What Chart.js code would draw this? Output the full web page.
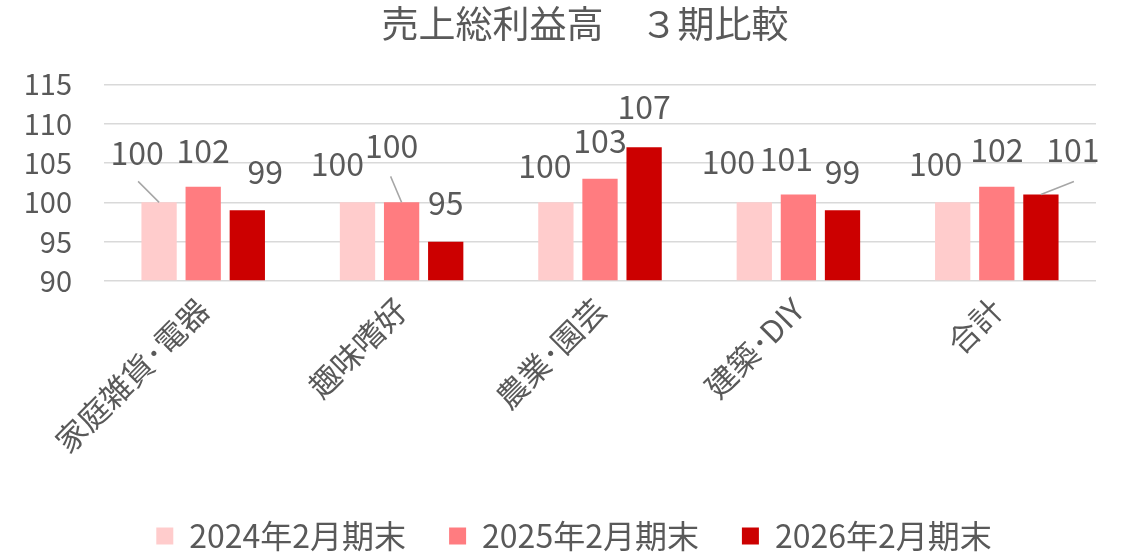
<!DOCTYPE html>
<html>
<head>
<meta charset="utf-8">
<script src="https://cdn.jsdelivr.net/npm/chart.js@4"></script>
<style>
  html, body { margin: 0; padding: 0; background: #fff; }
  #wrap { width: 1122px; height: 555px; }
</style>
</head>
<body>
<div id="wrap"><canvas id="chart-bars"></canvas></div>
<script>
const categories = ['家庭雑貨･電器', '趣味嗜好', '農業･園芸', '建築･DIY', '合計'];
const seriesNames = ['2024年2月期末', '2025年2月期末', '2026年2月期末'];
const values2024 = [100, 100, 100, 100, 100];
const values2025 = [102, 100, 103, 101, 102];
const values2026 = [99, 95, 107, 99, 101];
const yTicks = [90, 95, 100, 105, 110, 115];

const colors = ['#FFCCCC', '#FF7C80', '#CC0000'];
const FONT = '"Noto Sans CJK JP", "Noto Sans", sans-serif';
const TEXT = '#595959';

// where Excel moved each data label, relative to the top of its bar
const labelShift = [
  [[-22, -50], [-20, -39], [-11, -37], [-26, -41], [-17, -39]],
  [[0, -36], [-10, -57], [0, -38], [-12, -36], [0, -37]],
  [[18, -38], [0, -39], [0, -40], [0, -38], [32, -45]]
];
// leader lines: series, category, start point relative to the bar top
const leaders = [
  [0, 0, -21, -21],
  [1, 1, -11, -26],
  [2, 4, 33, -13]
];

const labelPlugin = {
  id: 'barLabels',
  afterLayout(chart) {
    // Excel centres the title and legend a little right of the canvas middle
    if (chart.titleBlock) chart.titleBlock.left = 74;
    if (chart.legend) chart.legend.left = 52;
  },
  afterDatasetsDraw(chart) {
    const c = chart.ctx;
    c.save();
    c.strokeStyle = '#A6A6A6';
    c.lineWidth = 1.5;
    for (const [s, i, dx, dy] of leaders) {
      const bar = chart.getDatasetMeta(s).data[i];
      c.beginPath();
      c.moveTo(bar.x + dx, bar.y + dy);
      c.lineTo(bar.x, bar.y);
      c.stroke();
    }
    c.fillStyle = TEXT;
    c.font = '32px ' + FONT;
    c.textAlign = 'center';
    c.textBaseline = 'middle';
    chart.data.datasets.forEach((ds, s) => {
      chart.getDatasetMeta(s).data.forEach((bar, i) => {
        const [dx, dy] = labelShift[s][i];
        c.fillText(String(ds.data[i]), bar.x + dx, bar.y + dy);
      });
    });
    c.restore();
  }
};

new Chart(document.getElementById('chart-bars'), {
  type: 'bar',
  data: {
    labels: categories,
    datasets: [values2024, values2025, values2026].map((vals, k) => ({
      label: seriesNames[k],
      data: vals,
      backgroundColor: colors[k],
      categoryPercentage: 0.667,
      barPercentage: 0.8,
      base: 90
    }))
  },
  options: {
    responsive: true,
    maintainAspectRatio: false,
    animation: false,
    layout: { padding: { left: 0, right: 26, bottom: -7 } },
    plugins: {
      title: {
        display: true,
        text: '売上総利益高　３期比較',
        color: TEXT,
        font: { family: FONT, size: 37, weight: 'normal' },
        padding: { top: 2, bottom: 38 }
      },
      legend: {
        position: 'bottom',
        labels: {
          color: TEXT,
          font: { family: FONT, size: 32 },
          boxWidth: 17,
          boxHeight: 17,
          padding: 43
        }
      },
      tooltip: { enabled: false }
    },
    scales: {
      x: {
        afterFit: (scale) => { scale.height = 196; },
        grid: { display: false },
        border: { display: false },
        ticks: {
          color: TEXT,
          font: { family: FONT, size: 31 },
          minRotation: 45,
          maxRotation: 45,
          padding: 2
        }
      },
      y: {
        min: 90,
        max: 115,
        afterFit: (scale) => { scale.width = 104; },
        afterBuildTicks: (scale) => { scale.ticks = yTicks.map(v => ({ value: v })); },
        border: { display: false },
        grid: { color: '#D9D9D9', lineWidth: 1.5, drawTicks: false },
        ticks: {
          color: TEXT,
          font: { family: FONT, size: 29 },
          padding: 32
        }
      }
    }
  },
  plugins: [labelPlugin]
});
</script>
</body>
</html>
